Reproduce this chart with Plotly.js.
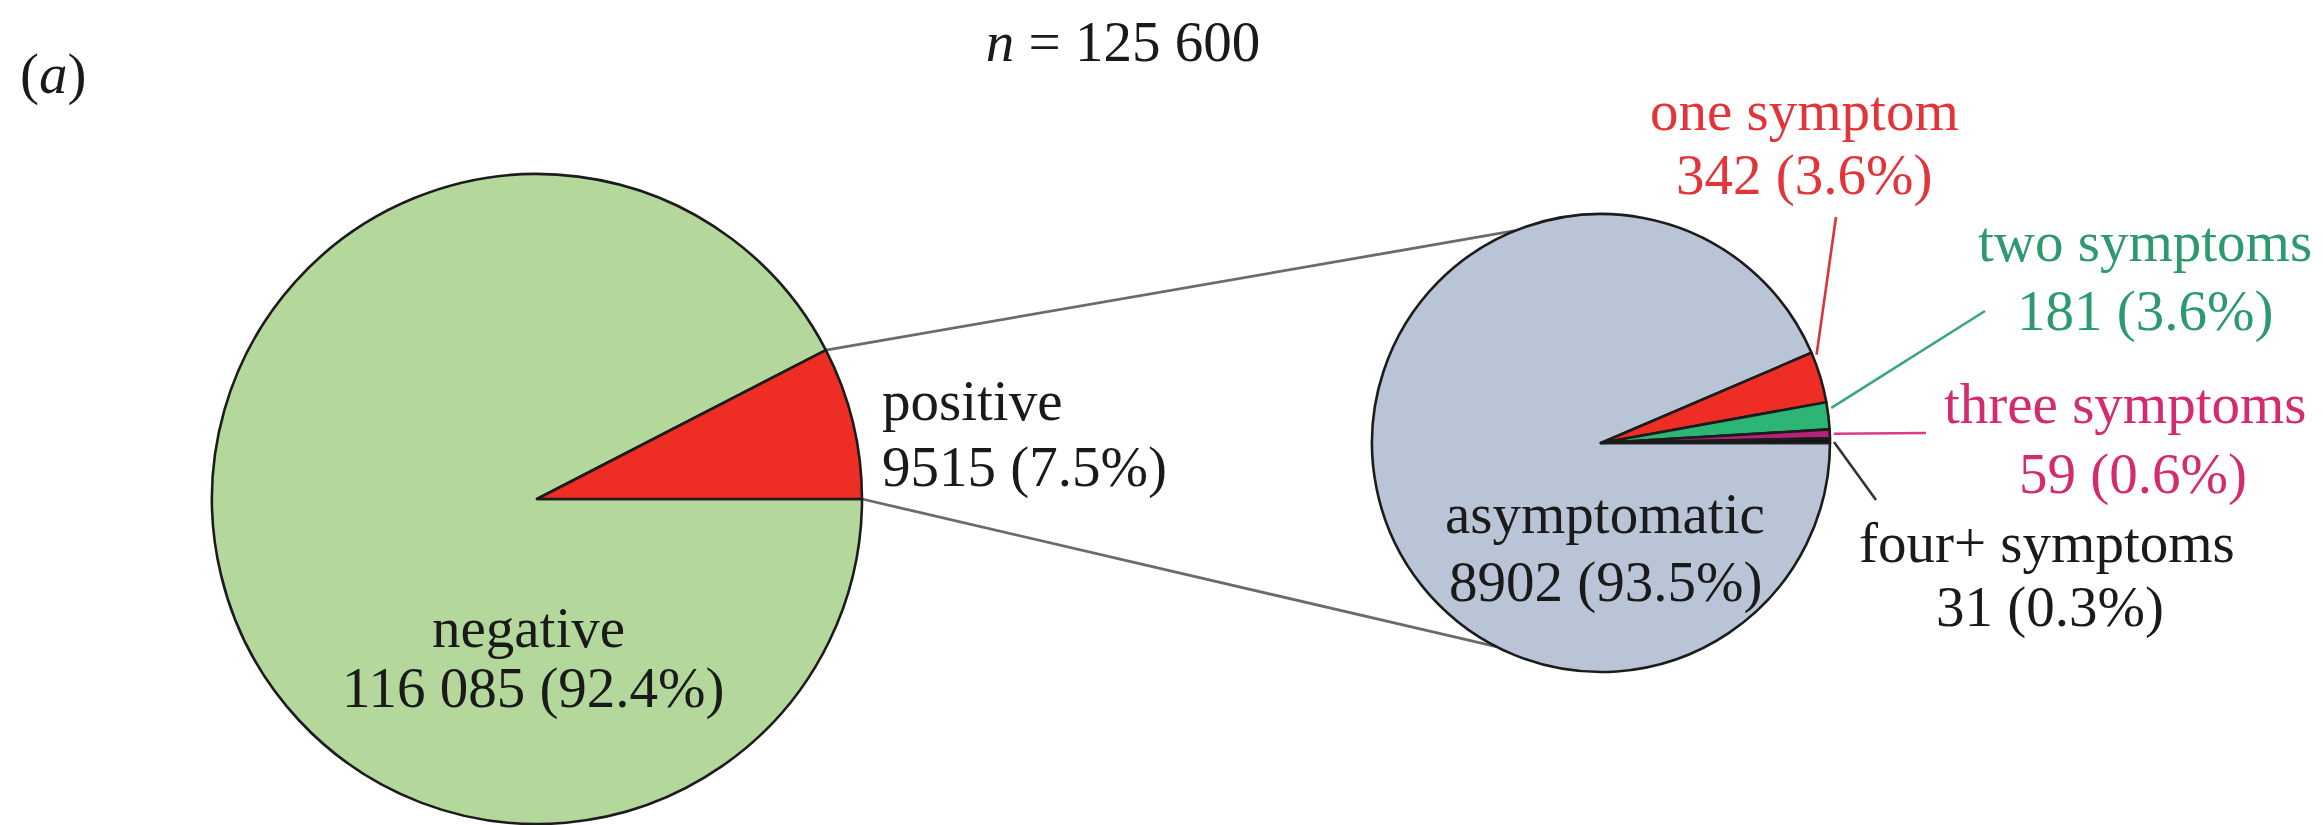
<!DOCTYPE html>
<html>
<head>
<meta charset="utf-8">
<script src="https://cdn.plot.ly/plotly-3.0.1.min.js"></script>
<style>
  html, body { margin: 0; padding: 0; background: #ffffff; }
  #chart { width: 2323px; height: 825px; }
</style>
</head>
<body>
<div id="chart"></div>
<script>
// All samples by test result
const testLabels = ['negative', 'positive'];
const testCounts = [116085, 9515];
const testPctText = ['92.4%', '7.5%'];

// Positive samples by number of reported symptoms
const symptomLabels = ['asymptomatic', 'one symptom', 'two symptoms', 'three symptoms', 'four+ symptoms'];
const symptomCounts = [8902, 342, 181, 59, 31];
const symptomPctText = ['93.5%', '3.6%', '3.6%', '0.6%', '0.3%'];

// ---- page geometry (pixels) ----
const W = 2323, H = 825;
const FONT = 'Liberation Serif';
const FS = 57;

const leftPie = { cx: 537, cy: 499, r: 325 };
const rightPie = { cx: 1601, cy: 443, r: 229 };

function domainOf(p) {
  return {
    x: [(p.cx - p.r) / W, (p.cx + p.r) / W],
    y: [(H - p.cy - p.r) / H, (H - p.cy + p.r) / H]
  };
}
const px = x => x / W;
const py = y => 1 - y / H;

// thousands grouped with a space for five-digit numbers and up
function fmt(n) {
  const s = String(n);
  return n >= 10000 ? s.replace(/\B(?=(\d{3})+(?!\d))/g, ' ') : s;
}

// slices run clockwise from 3 o'clock; return angle (deg, counter-clockwise from east)
// at fraction f through slice i
function sliceAngle(counts, i, f) {
  const total = counts.reduce((a, b) => a + b, 0);
  let cum = 0;
  for (let k = 0; k < i; k++) cum += counts[k];
  const start = cum / total * 360;
  const end = (cum + counts[i]) / total * 360;
  return -(start + f * (end - start));
}
function onCircle(p, deg, rr) {
  const a = deg * Math.PI / 180;
  const r = rr === undefined ? p.r : rr;
  return [p.cx + r * Math.cos(a), p.cy - r * Math.sin(a)];
}

const total = testCounts.reduce((a, b) => a + b, 0);

const outline = { color: '#1c1c1c', width: 2.6 };

const traces = [
  {
    type: 'pie',
    labels: testLabels,
    values: testCounts,
    sort: false,
    direction: 'clockwise',
    rotation: 90,
    textinfo: 'none',
    hoverinfo: 'skip',
    domain: domainOf(leftPie),
    marker: { colors: ['#b4d89c', '#ee2d24'], line: outline }
  },
  {
    type: 'pie',
    labels: symptomLabels,
    values: symptomCounts,
    sort: false,
    direction: 'clockwise',
    rotation: 90,
    textinfo: 'none',
    hoverinfo: 'skip',
    domain: domainOf(rightPie),
    marker: { colors: ['#b9c4d6', '#ee2d24', '#2cb574', '#b4237a', '#111111'], line: outline }
  }
];

// ---- connector lines from the positive slice to the breakdown pie ----
const posIdx = testLabels.indexOf('positive');
const cUpperA = onCircle(leftPie, sliceAngle(testCounts, posIdx, 0));
const cLowerA = onCircle(leftPie, sliceAngle(testCounts, posIdx, 1));
const cUpperB = onCircle(rightPie, 112);
const cLowerB = onCircle(rightPie, -117.2);

function seg(a, b, color, width, layer) {
  return {
    type: 'line', xref: 'paper', yref: 'paper', layer: layer || 'above',
    x0: px(a[0]), y0: py(a[1]), x1: px(b[0]), y1: py(b[1]),
    line: { color: color, width: width }
  };
}

const shapes = [
  seg(cUpperA, cUpperB, '#6b6b6b', 2.8, 'below'),
  seg(cLowerA, cLowerB, '#6b6b6b', 2.8, 'below')
];

// ---- leader lines for the small slices ----
const leaders = [
  { idx: 1, f: 0.07, end: [1836, 217], color: '#d8343c' },
  { idx: 2, f: 0.23, end: [1985, 311], color: '#3aa57a' },
  { idx: 3, f: 0.5, end: [1926, 433], color: '#d93a8a' },
  { idx: 4, f: 0.8, end: [1876, 500], color: '#333333' }
];
leaders.forEach(l => {
  const start = onCircle(rightPie, sliceAngle(symptomCounts, l.idx, l.f), rightPie.r + 4);
  shapes.push(seg(start, l.end, l.color, 2.6));
});

// ---- text labels: name on the first line, count and share on the second ----
function line(text, x, y, color, xanchor) {
  return {
    xref: 'paper', yref: 'paper', x: px(x), y: py(y),
    xanchor: xanchor || 'center', yanchor: 'middle', align: xanchor || 'center',
    text: text, showarrow: false,
    font: { family: FONT, size: FS, color: color }
  };
}
function label(name, count, pct, x1, y1, x2, y2, color, xanchor) {
  return [
    line(name, x1, y1, color, xanchor),
    line(fmt(count) + ' (' + pct + ')', x2, y2, color, xanchor)
  ];
}

const annotations = [].concat(
  label(testLabels[0], testCounts[0], testPctText[0], 528, 627, 533, 688, '#1a1a1a'),
  label(testLabels[1], testCounts[1], testPctText[1], 880, 400, 880, 467, '#1a1a1a', 'left'),
  label(symptomLabels[0], symptomCounts[0], symptomPctText[0], 1605, 513, 1605, 582, '#1a1a1a'),
  label(symptomLabels[1], symptomCounts[1], symptomPctText[1], 1804, 111, 1804, 175, '#e3343a'),
  label(symptomLabels[2], symptomCounts[2], symptomPctText[2], 2145, 241, 2145, 311, '#2d9a6e'),
  label(symptomLabels[3], symptomCounts[3], symptomPctText[3], 2125, 403, 2133, 474, '#d42a6f'),
  label(symptomLabels[4], symptomCounts[4], symptomPctText[4], 2047, 542, 2050, 607, '#1a1a1a'),
  [line('(<i>a</i>)', 18, 74, '#1a1a1a', 'left')]
);

const layout = {
  width: W,
  height: H,
  margin: { l: 0, r: 0, t: 0, b: 0 },
  paper_bgcolor: '#ffffff',
  plot_bgcolor: '#ffffff',
  showlegend: false,
  hovermode: false,
  title: {
    text: '<i>n</i> = ' + fmt(total),
    font: { family: FONT, size: FS, color: '#1a1a1a' },
    x: 1123 / W, xanchor: 'center',
    y: 1 - 41 / H, yanchor: 'middle'
  },
  shapes: shapes,
  annotations: annotations
};

Plotly.newPlot('chart', traces, layout, { staticPlot: true, displayModeBar: false });
</script>
</body>
</html>
